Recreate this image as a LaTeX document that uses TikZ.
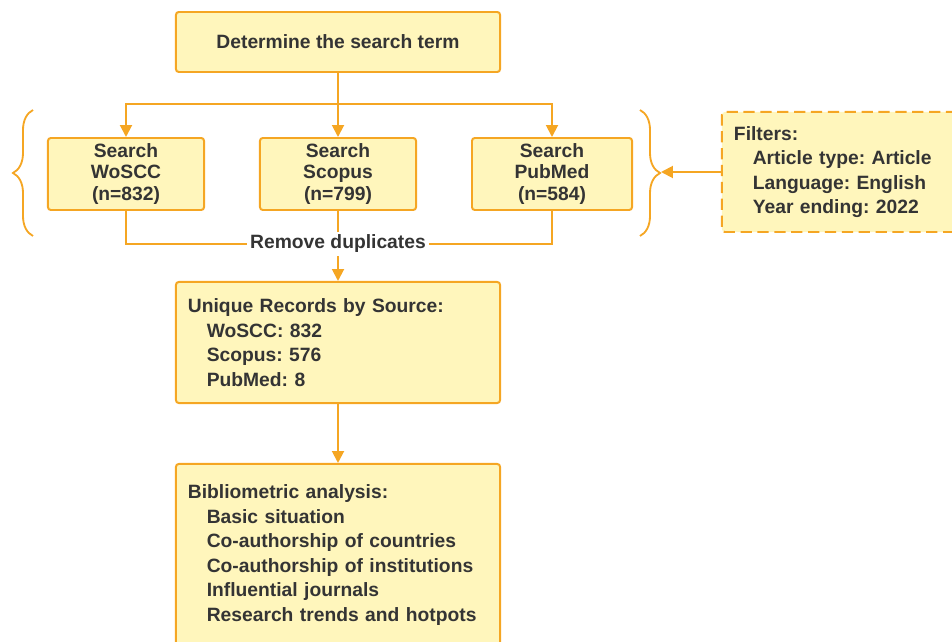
\documentclass[tikz,border=0pt]{standalone}
\usepackage{fontspec}
\setmainfont{Liberation Sans}
\usetikzlibrary{arrows.meta,decorations.pathreplacing}
\frenchspacing
\definecolor{boxfill}{RGB}{255,246,188}
\definecolor{boxline}{RGB}{245,166,35}
\definecolor{textgray}{RGB}{52,52,52}
\tikzset{
  flowbox/.style={draw=boxline, fill=boxfill, line width=1.4pt, rounded corners=2pt,
    text=textgray, font=\fontsize{13.7}{17.4}\selectfont\bfseries, inner sep=0pt},
  flowline/.style={draw=boxline, line width=1.4pt},
  flowarrow/.style={flowline, -{Triangle[length=8.5pt,width=8.5pt]}},
}
\newcommand{\ind}{\hspace*{0.47cm}}
\begin{document}
\begin{tikzpicture}[x=0.025cm,y=-0.025cm]
    \useasboundingbox (0,0) rectangle (952,642);
    \node[flowbox, align=center, minimum width=8.1cm, minimum height=1.5cm] (term) at (338,42) {Determine the search term};
    \node[flowbox, align=center, minimum width=3.9cm, minimum height=1.8cm,
      font=\fontsize{13.7}{15}\selectfont\bfseries] (wos) at (126,174) {Search\\WoSCC\\(n=832)};
    \node[flowbox, align=center, minimum width=3.9cm, minimum height=1.8cm,
      font=\fontsize{13.7}{15}\selectfont\bfseries] (sco) at (338,174) {Search\\Scopus\\(n=799)};
    \node[flowbox, align=center, minimum width=4cm, minimum height=1.8cm,
      font=\fontsize{13.7}{15}\selectfont\bfseries] (pub) at (552,174) {Search\\PubMed\\(n=584)};
    % filters, dashed
    \node[flowbox, dashed, dash pattern=on 8pt off 4pt, align=left, text width=5.35cm, inner xsep=0.3cm,
      minimum height=3cm] (filt) at (841,172)
      {Filters:\\\ind Article type: Article\\\ind Language: English\\\ind Year ending: 2022};
    \node[text=textgray, font=\fontsize{13.7}{15}\selectfont\bfseries, inner sep=2pt] (dup) at (338,244) {Remove duplicates};
    \node[flowbox, align=left, text width=7.5cm, inner xsep=0.3cm, minimum height=3.025cm] (uniq) at (338,342.5)
      {Unique Records by Source:\\\ind WoSCC: 832\\\ind Scopus: 576\\\ind PubMed: 8};
    \node[flowbox, align=left, text width=7.5cm, inner xsep=0.3cm, minimum height=4.55cm] (biblio) at (338,555)
      {Bibliometric analysis:\\\ind Basic situation\\\ind Co-authorship of countries\\\ind Co-authorship of institutions\\\ind Influential journals\\\ind Research trends and hotpots};
    \coordinate (fork) at (338,104);
    \coordinate (lbot) at (33,236);
    \coordinate (ltop) at (33,110);
    \coordinate (rtop) at (640,110);
    \coordinate (rbot) at (640,236);
    \coordinate (rtip) at (661,172);
    \draw[flowarrow] (term.south) -- (sco.north);
    \draw[flowarrow] (fork) -| (wos.north);
    \draw[flowarrow] (fork) -| (pub.north);
    \draw[flowline] (wos.south) |- (dup.west);
    \draw[flowline] (pub.south) |- (dup.east);
    \draw[flowline] (sco.south) -- (dup.north);
    \draw[flowarrow] (dup.south) -- (uniq.north);
    \draw[flowarrow] (uniq.south) -- (biblio.north);
    % braces round the searches
    \draw[flowline, line width=1.3pt, decorate, decoration={brace, amplitude=0.5cm}] (lbot) -- (ltop);
    \draw[flowline, line width=1.3pt, decorate, decoration={brace, amplitude=0.5cm}] (rtop) -- (rbot);
    \draw[flowarrow] (filt.west) -- (rtip);
\end{tikzpicture}
\end{document}
